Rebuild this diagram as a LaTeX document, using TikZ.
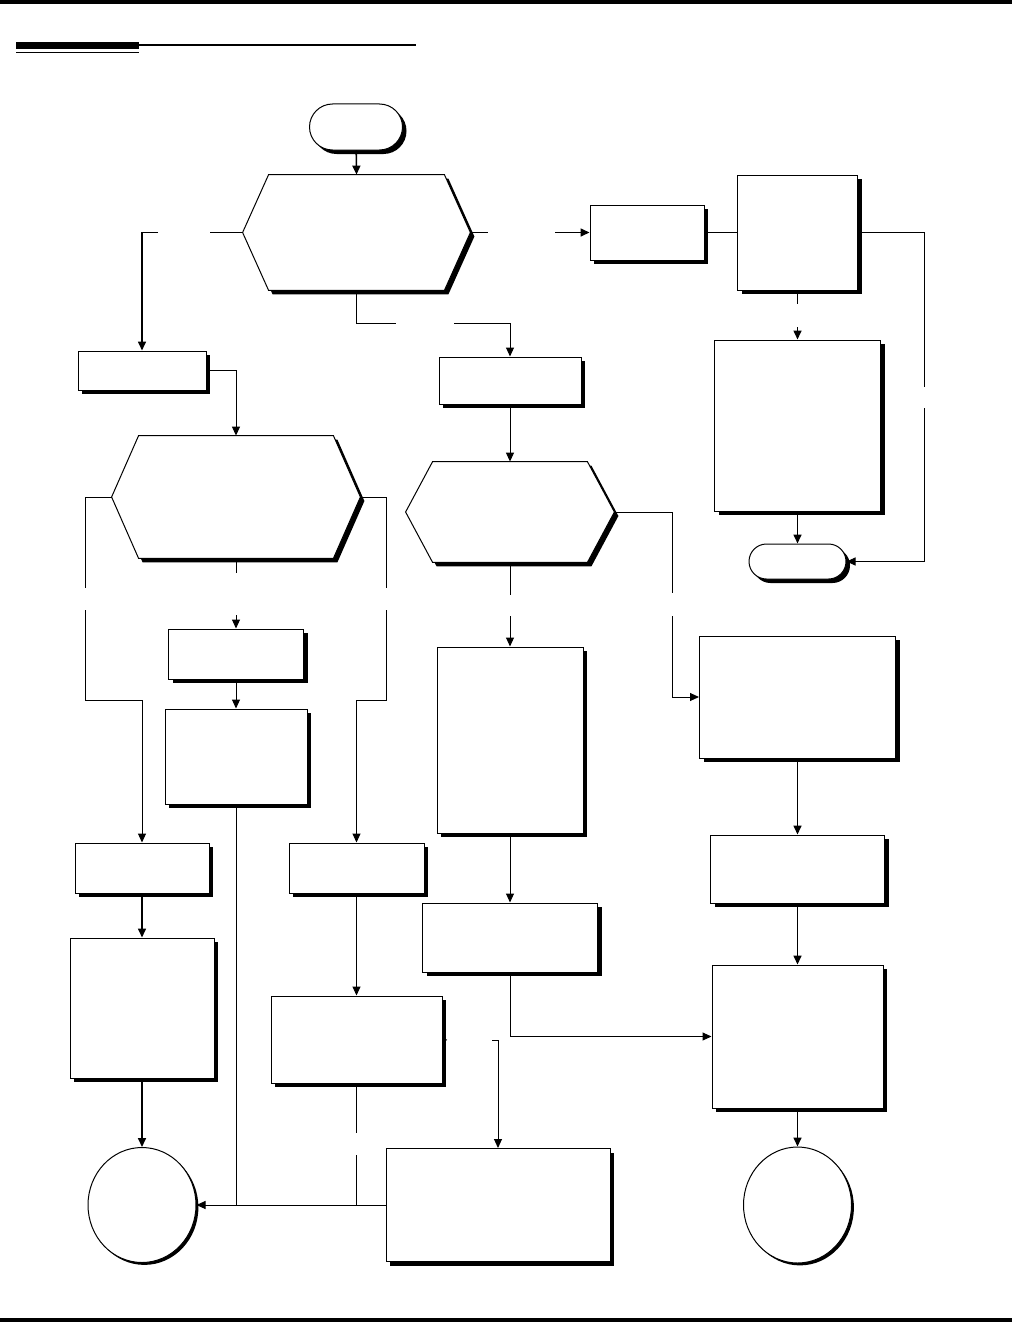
\documentclass[tikz,border=0pt]{standalone}
\usetikzlibrary{arrows.meta,shapes.misc,shapes.geometric,shadows}

% hexagonal decision: name, centre, width, height, slant
\newcommand{\hexnode}[5]{%
  \node[hexbase, minimum width=#3, minimum height=#4] (#1) at (#2) {};
  \path[hexline] (#1.west) -- ([xshift=#5]#1.north west) -- ([xshift=-#5]#1.north east)
    -- (#1.east) -- ([xshift=-#5]#1.south east) -- ([xshift=#5]#1.south west) -- cycle;}

\begin{document}
\begin{tikzpicture}[%
        x=0.5pt, y=-0.5pt,
        >={Triangle[length=4.5pt,width=4pt]},
        box/.style={rectangle, draw=black, line width=0.5pt, fill=white, inner sep=0pt,
            drop shadow={shadow xshift=2pt, shadow yshift=-2pt, fill=black, opacity=1}},
        term/.style={box, rounded rectangle},
        stop/.style={ellipse, draw=black, line width=0.5pt, fill=white, inner sep=0pt,
            drop shadow={shadow xshift=1.2pt, shadow yshift=-1.2pt, fill=black, opacity=1}},
        hexbase/.style={rectangle, inner sep=0pt},
        hexline/.style={draw=black, line width=0.5pt, fill=white,
            drop shadow={shadow xshift=2pt, shadow yshift=-2pt, fill=black, opacity=1}},
        flow/.style={line width=0.5pt},
        flowb/.style={line width=0.8pt}]
        \useasboundingbox (0,0) rectangle (1012,1322);

        % Page rules
        \fill (0,0) rectangle (1012,4);
        \fill (0,1318) rectangle (1012,1322);
        \fill (16,42) rectangle (139,49);
        \draw[line width=0.75pt] (16,52.5) -- (139,52.5);
        \draw[line width=1pt] (139,45.5) -- (416,45.5);

        % Nodes
        \node [term, minimum width=46.5pt, minimum height=23pt] (start) at (356,127) {};
        \hexnode{q1}{356.5,232.5}{113.5pt}{57.5pt}{13pt}
        \node [box, minimum width=57pt, minimum height=27.5pt] (r1) at (647,232.5) {};
        \node [box, minimum width=60pt, minimum height=57.5pt] (r2) at (797.5,232.5) {};
        \node [box, minimum width=83pt, minimum height=85.5pt] (r3) at (797.5,425.5) {};
        \node [term, minimum width=48.5pt, minimum height=17.5pt] (done) at (797.5,561.5) {};
        \node [box, minimum width=64pt, minimum height=19.5pt] (l1) at (142,370.5) {};
        \node [box, minimum width=71pt, minimum height=23.5pt] (m1) at (510,380.5) {};
        \hexnode{q2}{236,497}{124pt}{61pt}{13.5pt}
        \hexnode{q3}{510,512}{104pt}{50pt}{13.5pt}
        \node [box, minimum width=67.5pt, minimum height=25pt] (l2) at (236,654) {};
        \node [box, minimum width=71pt, minimum height=47.5pt] (l3) at (236,756.5) {};
        \node [box, minimum width=73pt, minimum height=93pt] (m2) at (510,740) {};
        \node [box, minimum width=98pt, minimum height=61pt] (r4) at (797.5,697) {};
        \node [box, minimum width=87pt, minimum height=34pt] (r5) at (797.5,869) {};
        \node [box, minimum width=85.5pt, minimum height=71.5pt] (r6) at (797.5,1036.5) {};
        \node [stop, minimum width=54pt, minimum height=58pt] (exitR) at (797.5,1205) {};
        \node [box, minimum width=67pt, minimum height=25pt] (l4) at (142,868) {};
        \node [box, minimum width=72pt, minimum height=70pt] (l5) at (142,1008) {};
        \node [stop, minimum width=54pt, minimum height=57.5pt] (exitL) at (142,1205) {};
        \node [box, minimum width=67.5pt, minimum height=25pt] (m3) at (356.5,868) {};
        \node [box, minimum width=85.5pt, minimum height=43.5pt] (m4) at (356.5,1039.5) {};
        \node [box, minimum width=87.5pt, minimum height=34.5pt] (m6) at (510,937.5) {};
        \node [box, minimum width=112pt, minimum height=56.5pt] (m5) at (498,1205) {};

        % Gaps in the connectors
        \coordinate (gA1) at (210,232.5);  \coordinate (gA2) at (158,232.5);
        \coordinate (gB1) at (488,232.5);  \coordinate (gB2) at (555,232.5);
        \coordinate (gC1) at (396,323);    \coordinate (gC2) at (454,323);
        \coordinate (gD1) at (797.5,304);  \coordinate (gD2) at (797.5,327);
        \coordinate (gE1) at (924,387);    \coordinate (gE2) at (924,408);
        \coordinate (gF1) at (85,588);     \coordinate (gF2) at (85,610);
        \coordinate (gG1) at (386,588);    \coordinate (gG2) at (386,610);
        \coordinate (gH1) at (236,573);    \coordinate (gH2) at (236,615);
        \coordinate (gI1) at (510,595);    \coordinate (gI2) at (510,616);
        \coordinate (gJ1) at (672,593);    \coordinate (gJ2) at (672,616);
        \coordinate (gK1) at (447,1040);   \coordinate (gK2) at (492,1040);
        \coordinate (gL1) at (356.5,1133); \coordinate (gL2) at (356.5,1155);
        \coordinate (bF) at (85,700);      \coordinate (bG) at (386,700);

        % Edges
        \draw[flowb,->] (start) -- (q1.north);
        \draw[flowb] (q1.west) -- (gA1);
        \draw[flowb,->] (gA2) -| (l1.north);
        \draw[flowb] (q1.east) -- (gB1);
        \draw[flowb,->] (gB2) -- (r1.west);
        \draw[flow] (q1.south) |- (gC1);
        \draw[flow,->] (gC2) -| (m1.north);
        \draw[flowb] (r1) -- (r2);
        \draw[flowb] (r2.south) -- (gD1);
        \draw[flowb,->] (gD2) -- (r3.north);
        \draw[flow] (r2.east) -| (gE1);
        \draw[flow,->] (gE2) |- (done.east);
        \draw[flowb,->] (r3) -- (done);
        \draw[flow,->] (l1.east) -| (q2.north);
        \draw[flow,->] (m1) -- (q3.north);
        \draw[flow] (q2.west) -| (gF1);
        \draw[flow,->] (gF2) -- (bF) -| (l4.north);
        \draw[flow] (q2.east) -| (gG1);
        \draw[flow,->] (gG2) -- (bG) -| (m3.north);
        \draw[flow] (q2.south) -- (gH1);
        \draw[flow,->] (gH2) -- (l2.north);
        \draw[flow,->] (l2) -- (l3);
        \draw[flow] (q3.south) -- (gI1);
        \draw[flow,->] (gI2) -- (m2.north);
        \draw[flow] (q3.east) -| (gJ1);
        \draw[flow,->] (gJ2) |- (r4.west);
        \draw[flowb,->] (r4) -- (r5);
        \draw[flowb,->] (r5) -- (r6);
        \draw[flowb,->] (r6) -- (exitR);
        \draw[flow,->] (m2) -- (m6);
        \draw[flow,->] (m6.south) |- (r6.west);
        \draw[flowb,->] (l4) -- (l5);
        \draw[flowb,->] (l5) -- (exitL);
        \draw[flow,->] (m3) -- (m4);
        \draw[flow] (m4.east) -- (gK1);
        \draw[flow,->] (gK2) -| (m5.north);
        \draw[flow,->] (m5.west) -- (exitL.east);
        \draw[flow] (l3.south) -- (l3.south |- m5.west);
        \draw[flow] (m4.south) -- (gL1);
        \draw[flow] (gL2) -- (gL2 |- m5.west);
    \end{tikzpicture}
\end{document}
